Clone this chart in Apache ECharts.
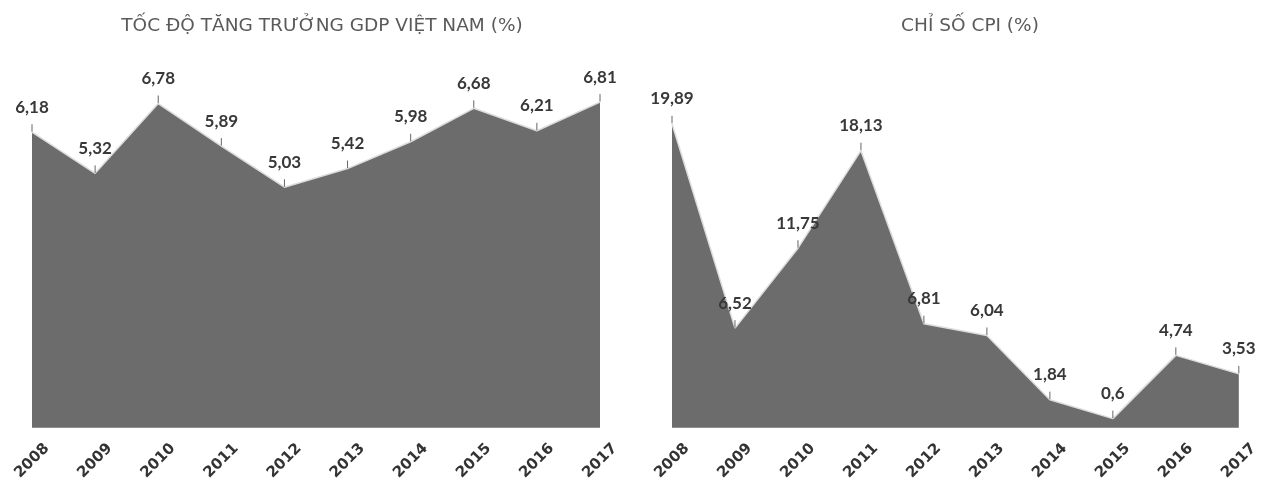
<!DOCTYPE html>
<html>
<head>
<meta charset="utf-8">
<script src="https://cdn.jsdelivr.net/npm/echarts@6/dist/echarts.min.js"></script>
<style>
  html, body { margin: 0; padding: 0; background: #fff; }
  #chart { width: 1261px; height: 483px; }
</style>
</head>
<body>
<div id="chart"></div>
<script>
const years = ['2008', '2009', '2010', '2011', '2012', '2013', '2014', '2015', '2016', '2017'];
const gdpGrowth = [6.18, 5.32, 6.78, 5.89, 5.03, 5.42, 5.98, 6.68, 6.21, 6.81];
const cpiIndex = [19.89, 6.52, 11.75, 18.13, 6.81, 6.04, 1.84, 0.6, 4.74, 3.53];

const labelFont = 'Lato, "Open Sans", sans-serif';
const wideFont = '"DejaVu Sans", Verdana, sans-serif';
const fmt = (v) => String(v).replace('.', ',');

const chart = echarts.init(document.getElementById('chart'));

function xAxis(gridIndex) {
  return {
    type: 'category',
    gridIndex: gridIndex,
    data: years,
    boundaryGap: false,
    axisLine: { show: false },
    axisTick: { show: false },
    axisLabel: {
      rotate: 45,
      margin: 33,
      align: 'center',
      verticalAlign: 'middle',
      color: '#333',
      fontFamily: wideFont,
      fontWeight: 'bold',
      fontSize: 15
    }
  };
}

function yAxis(gridIndex, max) {
  return {
    type: 'value',
    gridIndex: gridIndex,
    min: 0,
    max: max,
    show: false,
    splitLine: { show: false }
  };
}

function areaSeries(idx, values) {
  return {
    type: 'line',
    xAxisIndex: idx,
    yAxisIndex: idx,
    data: values,
    symbol: 'circle',
    symbolSize: 1,
    showSymbol: true,
    itemStyle: { color: 'rgba(0,0,0,0)', borderWidth: 0 },
    lineStyle: { color: '#dcdcdc', width: 1.5 },
    areaStyle: { color: '#6c6c6c', opacity: 1 },
    label: {
      show: true,
      position: 'top',
      distance: 16,
      color: '#383838',
      fontFamily: labelFont,
      fontWeight: 'bold',
      fontSize: 17,
      formatter: (p) => fmt(p.value)
    },
    labelLine: { show: true, length2: 0, lineStyle: { color: '#666', width: 1 } }
  };
}

chart.setOption({
  animation: false,
  backgroundColor: '#fff',
  title: [
    {
      text: 'TỐC ĐỘ TĂNG TRƯỞNG GDP VIỆT NAM (%)',
      left: 317, top: 12, textAlign: 'center',
      textStyle: { color: '#5a5a5a', fontFamily: wideFont, fontWeight: 'normal', fontSize: 18.5 }
    },
    {
      text: 'CHỈ SỐ CPI (%)',
      left: 965, top: 12, textAlign: 'center',
      textStyle: { color: '#5a5a5a', fontFamily: wideFont, fontWeight: 'normal', fontSize: 18.5 }
    }
  ],
  grid: [
    { left: 32, width: 568, top: 93, bottom: 54 },
    { left: 672, width: 568, top: 93, bottom: 54 }
  ],
  xAxis: [xAxis(0), xAxis(1)],
  yAxis: [yAxis(0, 7), yAxis(1, 21.9)],
  series: [areaSeries(0, gdpGrowth), areaSeries(1, cpiIndex)]
});
</script>
</body>
</html>
